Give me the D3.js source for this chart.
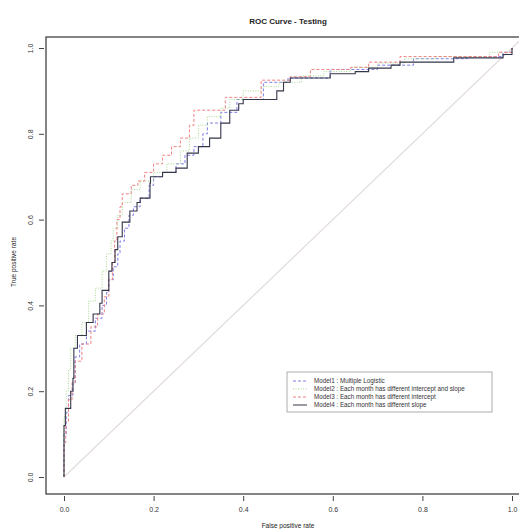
<!DOCTYPE html>
<html>
<head>
<meta charset="utf-8">
<script src="https://cdn.jsdelivr.net/npm/d3@7"></script>
<style>
  body { margin: 0; background: #fff; }
  svg { display: block; font-family: "Liberation Sans", Arial, sans-serif; }
  .axis text { font-size: 7px; fill: #333; }
  .axis line { stroke: #444; }
</style>
</head>
<body>
<div id="vis"></div>
<script>
// ROC points [false positive rate, true positive rate]
var model1 = [[0,0],[0,0.1],[0.005,0.15],[0.01,0.19],[0.02,0.22],[0.025,0.28],[0.035,0.31],[0.05,0.34],[0.07,0.37],[0.085,0.4],[0.095,0.43],[0.1,0.46],[0.11,0.49],[0.12,0.52],[0.125,0.55],[0.135,0.58],[0.145,0.61],[0.155,0.63],[0.17,0.65],[0.19,0.68],[0.2,0.7],[0.22,0.71],[0.25,0.73],[0.27,0.75],[0.29,0.77],[0.31,0.8],[0.32,0.825],[0.35,0.85],[0.386,0.88],[0.445,0.92],[0.5,0.93],[0.594,0.95],[0.7,0.96],[0.78,0.975],[0.9,0.98],[0.98,0.99],[1,1]];
var model2 = [[0,0],[0,0.14],[0.005,0.2],[0.01,0.25],[0.015,0.3],[0.025,0.33],[0.04,0.36],[0.055,0.41],[0.07,0.44],[0.085,0.48],[0.095,0.52],[0.105,0.55],[0.11,0.58],[0.12,0.61],[0.13,0.64],[0.15,0.67],[0.17,0.69],[0.2,0.71],[0.23,0.73],[0.26,0.76],[0.28,0.79],[0.3,0.82],[0.32,0.84],[0.35,0.86],[0.37,0.88],[0.4,0.9],[0.44,0.91],[0.48,0.92],[0.53,0.935],[0.58,0.945],[0.64,0.955],[0.7,0.965],[0.76,0.975],[0.83,0.98],[0.95,0.99],[1,1]];
var model3 = [[0,0],[0,0.08],[0.004,0.13],[0.01,0.18],[0.018,0.22],[0.025,0.27],[0.04,0.31],[0.06,0.35],[0.075,0.38],[0.09,0.42],[0.1,0.46],[0.108,0.5],[0.113,0.55],[0.118,0.6],[0.125,0.63],[0.13,0.66],[0.15,0.68],[0.165,0.69],[0.18,0.71],[0.2,0.73],[0.22,0.75],[0.24,0.77],[0.26,0.79],[0.28,0.82],[0.29,0.855],[0.36,0.885],[0.44,0.925],[0.505,0.933],[0.55,0.95],[0.64,0.955],[0.68,0.967],[0.75,0.98],[0.97,0.99],[1,1]];
var model4 = [[0,0],[0,0.12],[0.003,0.16],[0.015,0.2],[0.02,0.23],[0.022,0.3],[0.03,0.33],[0.05,0.36],[0.065,0.38],[0.08,0.405],[0.085,0.435],[0.1,0.48],[0.107,0.5],[0.114,0.53],[0.12,0.56],[0.13,0.594],[0.147,0.62],[0.163,0.64],[0.17,0.65],[0.192,0.685],[0.193,0.7],[0.22,0.71],[0.25,0.72],[0.275,0.755],[0.3,0.77],[0.325,0.79],[0.35,0.825],[0.37,0.855],[0.39,0.87],[0.4,0.88],[0.475,0.9],[0.49,0.92],[0.505,0.93],[0.594,0.94],[0.65,0.945],[0.68,0.953],[0.73,0.96],[0.75,0.967],[0.87,0.977],[0.98,0.985],[1,1]];

var modelNames = [
  "Model1 : Multiple Logistic",
  "Model2 : Each month has different intercept and slope",
  "Model3 : Each month has different intercept",
  "Model4 : Each month has different slope"
];
var xTicks = [0, 0.2, 0.4, 0.6, 0.8, 1.0];
var yTicks = [0, 0.2, 0.4, 0.6, 0.8, 1.0];

var width = 519, height = 529;

var colors = ["#7e7ee8", "#a8d890", "#ef8080", "#34364a"];
var dashes = ["3,2", "1,1.5", "3,2", null];

var x = d3.scaleLinear().domain([0, 1]).range([64, 512]);
var y = d3.scaleLinear().domain([0, 1]).range([477, 48]);

var svg = d3.select('#vis').append('svg')
    .attr('width', width)
    .attr('height', height);

// diagonal reference
svg.append('line')
    .attr('x1', x(0)).attr('y1', y(0))
    .attr('x2', x(1.04)).attr('y2', y(1.04))
    .attr('stroke', '#e2dcdc')
    .attr('stroke-width', 1.2);

var line = d3.line()
    .x(function (d) { return x(d[0]); })
    .y(function (d) { return y(d[1]); })
    .curve(d3.curveStepAfter);

[model1, model2, model3, model4].forEach(function (m, i) {
  svg.append('path')
      .datum(m)
      .attr('d', line)
      .attr('fill', 'none')
      .attr('stroke', colors[i])
      .attr('stroke-width', i === 3 ? 1.1 : 1)
      .attr('stroke-dasharray', dashes[i]);
});

// plot frame
svg.append('rect')
    .attr('x', 46).attr('y', 37)
    .attr('width', 484).attr('height', 457)
    .attr('fill', 'none')
    .attr('stroke', '#333')
    .attr('stroke-width', 1.2);

// axes
var xAxis = svg.append('g')
    .attr('class', 'axis')
    .attr('transform', 'translate(0,496)')
    .call(d3.axisBottom(x).tickValues(xTicks).tickSize(5).tickPadding(6).tickFormat(d3.format('.1f')));
xAxis.select('.domain').remove();

var yAxis = svg.append('g')
    .attr('class', 'axis')
    .attr('transform', 'translate(44,0)')
    .call(d3.axisLeft(y).tickValues(yTicks).tickSize(5).tickPadding(6).tickFormat(d3.format('.1f')));
yAxis.select('.domain').remove();
yAxis.selectAll('.tick text')
    .attr('text-anchor', 'middle')
    .attr('dy', null)
    .attr('x', null)
    .attr('transform', 'translate(-11,0) rotate(-90)');

// titles
svg.append('text')
    .attr('x', 288).attr('y', 24)
    .attr('text-anchor', 'middle')
    .attr('font-size', '8px')
    .attr('font-weight', 'bold')
    .attr('fill', '#222')
    .text('ROC Curve - Testing');

svg.append('text')
    .attr('x', 288).attr('y', 528)
    .attr('text-anchor', 'middle')
    .attr('font-size', '6.5px')
    .attr('fill', '#222')
    .text('False positive rate');

svg.append('text')
    .attr('transform', 'translate(16,262) rotate(-90)')
    .attr('text-anchor', 'middle')
    .attr('font-size', '6.5px')
    .attr('fill', '#222')
    .text('True positive rate');

// legend
var legend = svg.append('g').attr('transform', 'translate(287,372)');
legend.append('rect')
    .attr('width', 205).attr('height', 40)
    .attr('fill', '#fff')
    .attr('stroke', '#999')
    .attr('stroke-width', 0.8);

modelNames.forEach(function (name, i) {
  var ly = 9 + i * 8;
  legend.append('line')
      .attr('x1', 6).attr('x2', 20)
      .attr('y1', ly).attr('y2', ly)
      .attr('stroke', colors[i])
      .attr('stroke-width', 1)
      .attr('stroke-dasharray', dashes[i]);
  legend.append('text')
      .attr('x', 27).attr('y', ly + 2.3)
      .attr('font-size', '6.3px')
      .attr('fill', '#333')
      .text(name);
});
</script>
</body>
</html>
